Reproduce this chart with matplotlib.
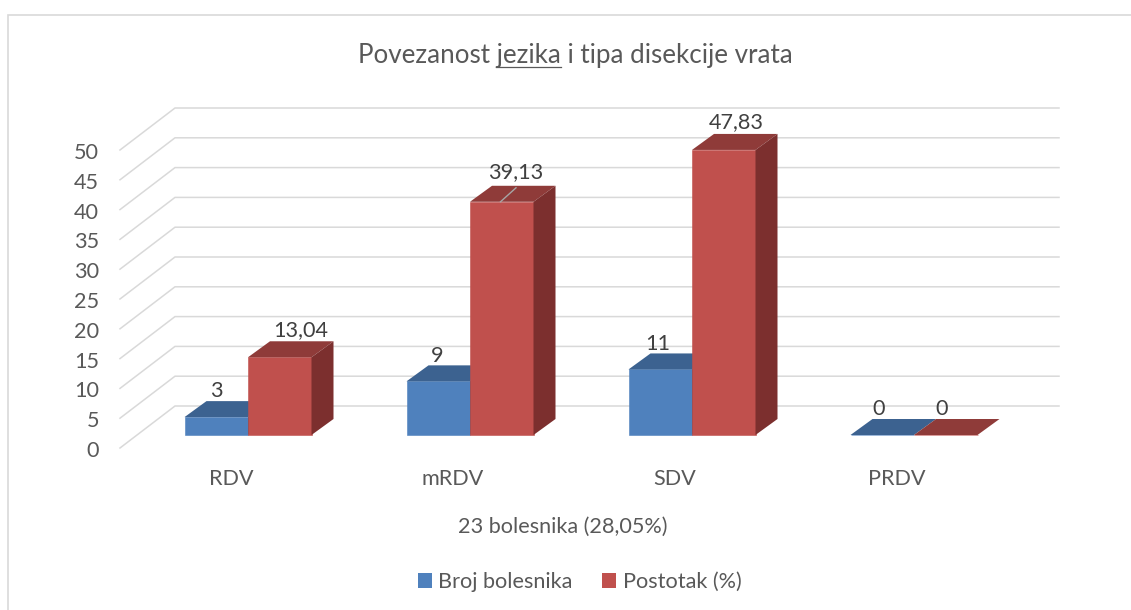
import matplotlib
matplotlib.use("Agg")
import matplotlib.pyplot as plt
from matplotlib.lines import Line2D
from matplotlib.patches import Patch
from matplotlib.transforms import Affine2D

plt.rcParams["font.family"] = ["Lato", "DejaVu Sans"]

categories = ["RDV", "mRDV", "SDV", "PRDV"]
broj_bolesnika = [3, 9, 11, 0]
postotak = [13.04, 39.13, 47.83, 0]
broj_labels = ["3", "9", "11", "0"]
postotak_labels = ["13,04", "39,13", "47,83", "0"]
y_ticks = [0, 5, 10, 15, 20, 25, 30, 35, 40, 45, 50]

W, H = 1131, 610
GREY = "#595959"
GRID = "#d9d9d9"
DARK = "#404040"
FS = 15.6
FS_TITLE = 18.7

fig = plt.figure(figsize=(W / 100, H / 100), dpi=100)

# plane of the bar fronts, in pixels: x 137..1025, value 0 at 435, value 50 at 137
ax = fig.add_axes([137 / W, (H - 435) / H, 888 / W, 298 / H])
ax.set_xlim(-0.5, 3.5)
ax.set_ylim(0, 50)
ax.patch.set_visible(False)
for s in ax.spines.values():
    s.set_visible(False)

PX = 4 / 888    # one pixel in x data units
PY = 50 / 298   # one pixel in y data units
bar_w = 63.5 * PX
depth_x = 22 * PX
depth_y = 16 * PY

# walls: front stub goes to the back wall, then along the wall
for v in y_ticks:
    ax.plot([-0.5 - 17 * PX, -0.5 + 38 * PX, 3.5 + 34 * PX],
            [v - 13 * PY, v + 29 * PY, v + 29 * PY],
            color=GRID, lw=1.1, clip_on=False, zorder=1, solid_joinstyle="miter")


def bars_3d(x, vals, front, top, side, z):
    for xi, v in zip(x, vals):
        ax.bar(xi, v, width=bar_w, align="edge", color=front, edgecolor=front,
               lw=0.4, clip_on=False, zorder=z)
        # top face
        ax.fill([xi, xi + bar_w, xi + bar_w + depth_x, xi + depth_x],
                [v, v, v + depth_y, v + depth_y],
                color=top, lw=0, clip_on=False, zorder=z)
        # side face
        ax.fill([xi + bar_w, xi + bar_w + depth_x, xi + bar_w + depth_x, xi + bar_w],
                [0, depth_y, v + depth_y, v],
                color=side, lw=0, clip_on=False, zorder=z)


pos = list(range(len(categories)))
bars_3d([p - bar_w for p in pos], broj_bolesnika, "#4f81bd", "#3c6290", "#2f4f75", 2)
bars_3d(pos, postotak, "#c0504d", "#8f3b39", "#7c2f2e", 3)

# data labels sit a little off the bar centres, like in the original
broj_off = [(0, 26), (-1, 25), (-3, 25), (-4, 26)]
post_off = [(21, 27), (14, 30), (13, 28), (-4, 26)]
for p, v, lab, off in zip(pos, broj_bolesnika, broj_labels, broj_off):
    ax.annotate(lab, (p - bar_w / 2, v), xytext=off, textcoords="offset pixels",
                ha="center", va="center", fontsize=FS, color=DARK, zorder=5,
                annotation_clip=False)
for p, v, lab, off in zip(pos, postotak, postotak_labels, post_off):
    ax.annotate(lab, (p + bar_w / 2, v), xytext=off, textcoords="offset pixels",
                ha="center", va="center", fontsize=FS, color=DARK, zorder=5,
                annotation_clip=False)

# leader line of the 39,13 label
ax.plot([1 + 30.5 * PX, 1 + 46 * PX], [postotak[1], postotak[1] + 14 * PY],
        color="#a6a6a6", lw=1, zorder=5, clip_on=False)

ax.set_yticks(y_ticks)
ax.set_yticklabels([str(v) for v in y_ticks])
ax.set_xticks(pos)
ax.set_xticklabels(categories)
ax.tick_params(axis="y", length=0, pad=27.4, labelsize=FS, labelcolor=GREY)
ax.tick_params(axis="x", length=0, pad=24.5, labelsize=FS, labelcolor=GREY)
for lab in ax.get_yticklabels():
    lab.set_transform(lab.get_transform() + Affine2D().translate(0, -14))
for lab in ax.get_xticklabels():
    lab.set_transform(lab.get_transform() + Affine2D().translate(-17, 0))

fig.text(563 / W, 1 - 526.5 / H, "23 bolesnika (28,05%)", ha="center", va="center",
         fontsize=FS, color=GREY)

title = fig.text(575 / W, 1 - 55 / H, "Povezanost jezika i tipa disekcije vrata",
                 ha="center", va="center", fontsize=FS_TITLE, color=GREY)

# underline under "jezika": measured from the rendered text
rend = fig.canvas.get_renderer()
def text_w(s):
    t = fig.text(0, 0, s, fontsize=FS_TITLE)
    w = t.get_window_extent(rend).width
    t.remove()
    return w
x0 = title.get_window_extent(rend).x0
u1 = x0 + text_w("Povezanost jezika")
u0 = u1 - text_w("jezika")
fig.add_artist(Line2D([u0 / W, u1 / W], [1 - 66.5 / H, 1 - 66.5 / H], color=GREY, lw=0.9))

handles = [Patch(facecolor="#4f81bd", lw=0, label="Broj bolesnika"),
           Patch(facecolor="#c0504d", lw=0, label="Postotak (%)")]
fig.legend(handles=handles, loc="center", bbox_to_anchor=(579.5 / W, 1 - 582 / H),
           ncol=2, frameon=False, fontsize=FS, labelcolor=GREY, handlelength=0.65,
           handleheight=0.65, handletextpad=0.3, columnspacing=1.35)

# chart frame: only top and left are in the crop
fig.add_artist(Line2D([8 / W, 8 / W, 1], [0, 1 - 14.5 / H, 1 - 14.5 / H],
                      color=GRID, lw=1.2, solid_joinstyle="miter"))

fig.savefig("out.png", dpi=100)
